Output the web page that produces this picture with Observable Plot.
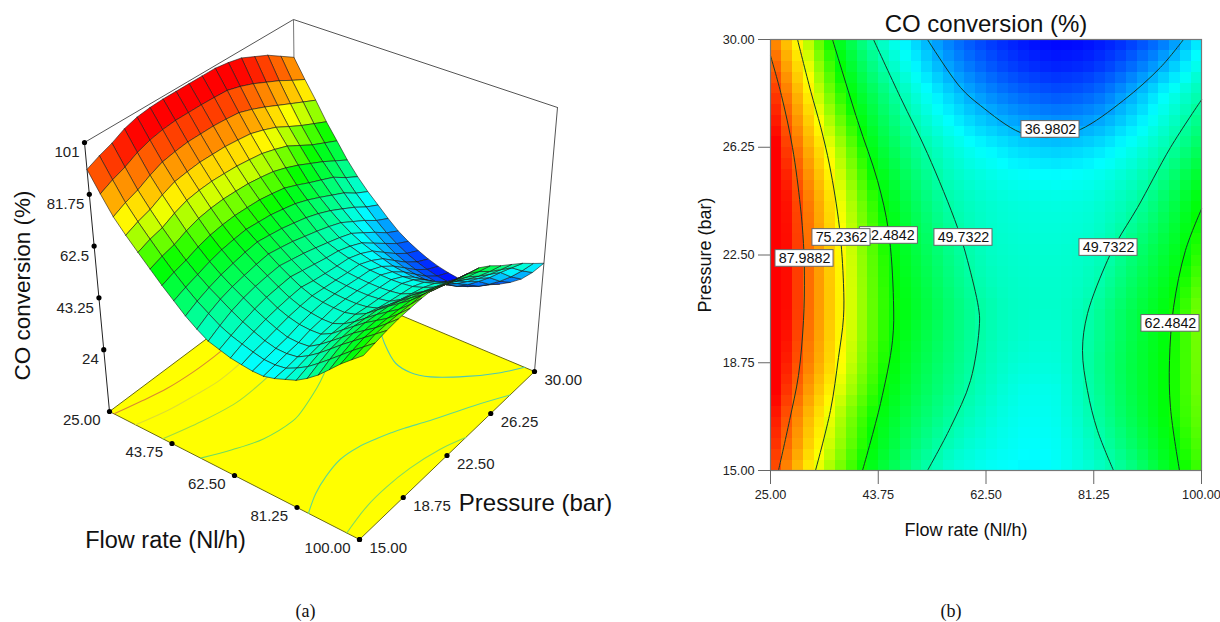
<!DOCTYPE html>
<html><head><meta charset="utf-8">
<script src="https://cdn.jsdelivr.net/npm/d3@7"></script>
<script src="https://cdn.jsdelivr.net/npm/@observablehq/plot@0.6"></script>
<style>
html,body{margin:0;padding:0;background:#fff;width:1220px;height:622px;overflow:hidden}
#a,#b{position:absolute;top:0}
#a{left:0}#b{left:640px}
svg{font-family:"Liberation Sans",Arial,sans-serif;display:block;background:transparent}
</style></head><body>
<div id="a"></div><div id="b"></div>
<script>
// ---- data ----
const flowNodes=[25,28.125,31.25,34.375,37.5,40.625,43.75,46.875,50,53.125,56.25,59.375,62.5,65.625,68.75,71.875,75,78.125,81.25,84.375,87.5,90.625,93.75,96.875,100];
const pressureNodes=[15,15.9375,16.875,17.8125,18.75,19.6875,20.625,21.5625,22.5,23.4375,24.375,25.3125,26.25,27.1875,28.125,29.0625,30];
const z_p150=[91,83.7,77,72,67.5,63.2,59,55.2,51.5,48.5,46,44.8,43.6,43,42.5,42.5,43.5,45,46.5,49,52,55.7,59.5,62.8,66];
const z_p159=[93.2,86,79.3,74,69.3,64.8,60.7,57,53.7,51,48.4,46.6,45.3,44.2,43.3,43.2,43.8,45.7,48,51,54.2,57.5,60.8,63.9,67];
const z_p169=[95,87.8,81,75.5,70.5,66,62,58.5,55.5,53,50.5,48.3,46.5,45,44,43.9,44.5,46.7,49.5,52.7,56,59,62,65,68];
const z_p178=[97.5,90.3,83.5,77.9,72.8,68,63.8,60.1,57,54.4,52,49.7,47.7,46,44.7,44.5,44.9,47.4,50.4,53.5,56.7,59.4,62.1,65.3,68.7];
const z_p188=[99,92,85.5,79.8,74.5,69.5,65,61.3,58,55.3,53,50.7,48.5,47,46,45.7,45.9,47.9,51,54,57,59.5,62,65.3,69];
const z_p197=[99.7,93,86.4,80.5,75.2,70.2,65.7,62,58.9,56.1,53.6,51.2,49.1,47.6,46.8,46.3,46.4,48,50.5,53.5,56.5,59.2,61.8,65.2,69.2];
const z_p206=[100,93.5,87,81,75.5,70.5,66,62.5,59.5,56.7,54,51.6,49.5,48,47.3,47,47,48,50,53,56,58.8,61.5,65,69];
const z_p216=[100,93.5,87,80.9,75.3,70.3,65.8,62,58.8,55.8,53,50.6,48.5,47.5,47,46.8,46.8,47.3,48.5,51.4,54.5,57.3,60,63.4,67.3];
const z_p225=[100,93.5,87,80.8,75,70,65.5,61.5,58,54.8,52,49.6,47.8,47,46.6,46.4,46.4,46.8,47.5,49.8,53,55.7,58.5,61.8,65.5];
const z_p234=[100,93.3,86.6,80.2,74.3,69.2,64.6,60.4,56.8,53.4,50.7,48.6,47.2,46.4,46,45.8,45.8,46.1,46.7,48.5,50.8,53.6,56.8,60.3,64];
const z_p244=[100,93,86,79.5,73.5,68.2,63.5,59.2,55.5,52,49.3,47.8,46.7,46,45.5,45.3,45.2,45.4,45.9,47.2,48.9,51.5,55,58.7,62.5];
const z_p253=[99.2,91.5,84.2,77.8,71.9,66.4,61.4,57.3,53.7,50.4,47.8,46.2,45,44,43.4,43,42.8,43.2,43.9,45.1,46.9,49.3,52.4,55.9,59.6];
const z_p263=[98,89.5,82,75.7,70,64.2,59,55,51.5,48.5,46,44,42.5,41.2,40,39.4,39,39.6,40.5,42,44,46.3,49,52.3,56];
const z_p272=[95.5,87,79.5,72.8,67,61.6,56.8,52.5,48.8,45.5,42.8,40.4,38.5,37,35.8,35,34.5,35,36,37.8,40.2,42.9,46,49.3,52.8];
const z_p281=[93,84.5,77,70,64,59,54.5,50,46,42.5,39.5,36.8,34.5,32.8,31.5,30.6,30,30.5,31.5,33.7,36.5,39.5,43,46.3,49.5];
const z_p291=[89.5,81.5,74.5,67.5,61.5,56,51,46.5,42.7,39,35.8,33.2,31,29.3,28,27,26.5,26.9,27.7,29.4,31.7,34.4,37.6,41.4,45.7];
const z_p300=[86,78.7,72,65,59,53,48,43.7,40,36.3,33,30.5,28.5,26.8,25.5,24.6,24,24.3,25,26.2,28,30.2,33,37,42];
const zRows=[z_p150,z_p159,z_p169,z_p178,z_p188,z_p197,z_p206,z_p216,z_p225,z_p234,z_p244,z_p253,z_p263,z_p272,z_p281,z_p291,z_p300];

// contour traces as [flow, pressure]
const contour88=[[25,29.44],[26.91,28.05],[28.83,26.24],[30.2,24.2],[30.74,22.9],[30.9,21.8],[30.74,20.22],[29.87,18.31],[28.31,16.74],[26.39,15]];
const contour75=[[29.7,30],[32,28.2],[33.75,26.94],[35.3,25.6],[37.0,23.46],[37.7,21.51],[37.7,20.32],[36.83,18.93],[35.44,17.09],[32.83,15]];
const contour62L=[[35.79,30],[40.14,27.18],[43.62,25.09],[45.53,23.35],[46.4,20.92],[46.23,19.52],[44.14,17.33],[41.01,15]];
const contour49L=[[42.92,30],[47.62,27.98],[52.32,26.03],[57.54,23.46],[59.28,22.31],[61.19,20.67],[61.37,20.12],[59.8,18.13],[56.32,16.5],[52.32,15]];
const contour37=[[52.32,30],[58.06,28.33],[61.54,27.7],[68.5,26.76],[73.72,26.59],[78.94,26.87],[86.42,27.88],[92.86,29.03],[96.87,30]];
const contour49R=[[100,27.9],[94.6,26.24],[88.86,24.15],[85.38,23],[83.64,22.31],[80.16,20.46],[79.29,19.18],[80.16,17.78],[81.9,16.39],[84.69,15]];
const contour62R=[[100,24.1],[97.21,22.66],[95.13,20.67],[94.43,18.83],[94.6,17.19],[96.17,15]];
const contourSets=[
  {pts:contour88,floor:"#d98a30"},{pts:contour75,floor:"#dede30"},
  {pts:contour62L,floor:"#9ede40"},{pts:contour49L,floor:"#70dc60"},
  {pts:contour37,floor:"#50c8b0"},{pts:contour49R,floor:"#60d890"},
  {pts:contour62R,floor:"#80dc60"}];
// contour labels
const labelText=["36.9802","49.7322","49.7322","62.4842","62.4842","75.2362","87.9882"];
const labelFlow=[73.72,58.58,83.82,94.6,45.6,37.35,30.92];
const labelPressure=[26.87,23.11,22.76,20.12,23.18,23.11,22.38];
// ticks
const flowTicks=[25,43.75,62.5,81.25,100];
const pressureTicks=[15,18.75,22.5,26.25,30];
const zTicks=[24,43.25,62.5,81.75,101];
const zTickLabels=["24","43.25","62.5","81.75","101"];
// colour ramp
const rampValues=[24,43,62.5,75,95];
const rampColors=["#0000ff","#00ffff","#00ff00","#ffff00","#ff0000"];
const colorScale={type:"linear",domain:rampValues,range:rampColors,clamp:true,interpolate:"rgb"};

// ---- box of the 3-D view: its corners in the picture (floor, then top) ----
const floorCorners=[[109,411],[359,539],[534,371],[296,271]];
const topCorners=[[84,142],[365,256],[557,107],[293,19]];
const zFloor=1,zTop=101;
const bilinear=(q,u,v)=>[0,1].map(k=>(1-u)*(1-v)*q[0][k]+u*(1-v)*q[1][k]+u*v*q[2][k]+(1-u)*v*q[3][k]);
function project(flow,p,z){
  const u=(flow-25)/75,v=(p-15)/15,w=(z-zFloor)/(zTop-zFloor);
  const A=bilinear(floorCorners,u,v),B=bilinear(topCorners,u,v);
  return [A[0]+(B[0]-A[0])*w,A[1]+(B[1]-A[1])*w];
}

// ---- panel (a) ----
const quads=[];
let q=0;
for(let i=0;i<flowNodes.length-1;i++){
  for(let j=pressureNodes.length-2;j>=0;j--){
    const c=[[i,j],[i+1,j],[i+1,j+1],[i,j+1],[i,j]];
    const zm=(zRows[j][i]+zRows[j][i+1]+zRows[j+1][i]+zRows[j+1][i+1])/4;
    for(const [a,b] of c){
      const P=project(flowNodes[a],pressureNodes[b],zRows[b][a]);
      quads.push({q,x:P[0],y:P[1],v:zm});
    }
    q++;
  }
}
const onFloor=(f,p)=>project(f,p,zFloor);
const floorPoly=[[25,15],[100,15],[100,30],[25,30],[25,15]].map(([f,p])=>{const P=onFloor(f,p);return{x:P[0],y:P[1]};});
const seg=(a,b)=>[{x:a[0],y:a[1]},{x:b[0],y:b[1]}];
const fl=floorCorners,tp=topCorners;
const textA=(s,x,y,opt)=>Plot.text([s],{x:()=>x,y:()=>y,text:d=>d,fill:"#111",...opt});

const floorContours=contourSets.map(c=>Plot.line(c.pts.map(([f,p])=>{const P=onFloor(f,p);return{x:P[0],y:P[1]};}),
  {x:"x",y:"y",stroke:c.floor,strokeWidth:1.1,curve:"catmull-rom"}));

const zt=zTicks.map((z,i)=>{const P=project(25,15,z);return{x:P[0],y:P[1],t:zTickLabels[i]};});
const ft=flowTicks.map(f=>{const P=onFloor(f,15);return{x:P[0],y:P[1],t:d3.format(".2f")(f)};});
const pt=pressureTicks.map(p=>{const P=onFloor(100,p);return{x:P[0],y:P[1],t:d3.format(".2f")(p)};});

const left=Plot.plot({
  width:640,height:622,margin:0,
  x:{domain:[0,640],range:[0,640],axis:null},
  y:{domain:[0,622],range:[0,622],axis:null},
  color:colorScale,
  marks:[
    Plot.line(seg(tp[0],tp[3]),{x:"x",y:"y",stroke:"#555",strokeWidth:1}),
    Plot.line(seg(tp[3],tp[2]),{x:"x",y:"y",stroke:"#555",strokeWidth:1}),
    Plot.line(seg(tp[3],fl[3]),{x:"x",y:"y",stroke:"#777",strokeWidth:1}),
    Plot.line(seg(tp[2],fl[2]),{x:"x",y:"y",stroke:"#555",strokeWidth:1}),
    Plot.line(seg(tp[0],fl[0]),{x:"x",y:"y",stroke:"#222",strokeWidth:1}),
    Plot.line(floorPoly,{x:"x",y:"y",fill:"#ffff00",stroke:"#6b6b10",strokeWidth:1}),
    ...floorContours,
    Plot.line(quads,{x:"x",y:"y",z:"q",fill:"v",stroke:"#1a1a1a",strokeWidth:0.6}),
    Plot.dot([...zt,...ft,...pt],{x:"x",y:"y",r:2.6,fill:"#000"}),
    Plot.text(zt,{x:"x",y:"y",text:"t",textAnchor:"end",dx:-5,dy:10,fontSize:15,fill:"#222"}),
    Plot.text(ft,{x:"x",y:"y",text:"t",textAnchor:"end",dx:-9,dy:9,fontSize:15,fill:"#222"}),
    Plot.text(pt,{x:"x",y:"y",text:"t",textAnchor:"start",dx:10,dy:9,fontSize:15,fill:"#222"}),
    textA("CO conversion (%)",22,285,{rotate:-90,fontSize:22.5}),
    textA("Flow rate (Nl/h)",165,540,{fontSize:23.5}),
    textA("Pressure (bar)",535,503,{fontSize:24}),
    textA("(a)",305,611,{fontSize:18,fontFamily:"Liberation Serif"})
  ]
});
document.getElementById("a").append(left);

// ---- panel (b) ----
const cells=[];
pressureNodes.forEach((p,j)=>flowNodes.forEach((f,i)=>cells.push({f,p,v:zRows[j][i]})));
const labelMarks=labelText.flatMap((t,i)=>{
  const d=[{t,f:labelFlow[i],p:labelPressure[i]}];
  return [
    Plot.rect(d,{x1:e=>e.f-5.05,x2:e=>e.f+5.05,y1:e=>e.p-0.29,y2:e=>e.p+0.29,fill:"#fff",stroke:"#666",strokeWidth:1}),
    Plot.text(d,{x:"f",y:"p",text:"t",fontSize:14.3,fill:"#111"})
  ];
});
const right=Plot.plot({
  width:580,height:622,marginLeft:130,marginRight:19,marginTop:39,marginBottom:152,
  x:{domain:[25,100]},y:{domain:[15,30]},color:colorScale,
  marks:[
    Plot.raster(cells,{x:"f",y:"p",fill:"v",width:40,height:40,interpolate:"barycentric",imageRendering:"pixelated"}),
    ...contourSets.map(c=>Plot.line(c.pts,{x:d=>d[0],y:d=>d[1],stroke:"#143a2a",strokeWidth:1,curve:"catmull-rom"})),
    Plot.frame({stroke:"#777",strokeWidth:1.2}),
    Plot.axisX({ticks:flowTicks,tickFormat:d3.format(".2f"),tickSize:14,tickPadding:5,label:null,fontSize:12.7,stroke:"#666",fill:"#222"}),
    Plot.axisY({ticks:pressureTicks,tickFormat:d3.format(".2f"),tickSize:12,tickPadding:4,label:null,fontSize:12.7,stroke:"#666",fill:"#222"}),
    ...labelMarks,
    Plot.text(["CO conversion (%)"],{frameAnchor:"top",lineAnchor:"middle",dy:-15,fontSize:24,fill:"#111"}),
    Plot.text(["Flow rate (Nl/h)"],{frameAnchor:"bottom",lineAnchor:"middle",dx:-20,dy:60,fontSize:18,fill:"#111"}),
    Plot.text(["Pressure (bar)"],{frameAnchor:"left",textAnchor:"middle",lineAnchor:"middle",dx:-65,rotate:-90,fontSize:18,fill:"#111"}),
    Plot.text(["(b)"],{frameAnchor:"bottom",lineAnchor:"middle",dx:-35,dy:141,fontSize:18,fontFamily:"Liberation Serif",fill:"#111"})
  ]
});
document.getElementById("b").append(right);
</script>
</body></html>
